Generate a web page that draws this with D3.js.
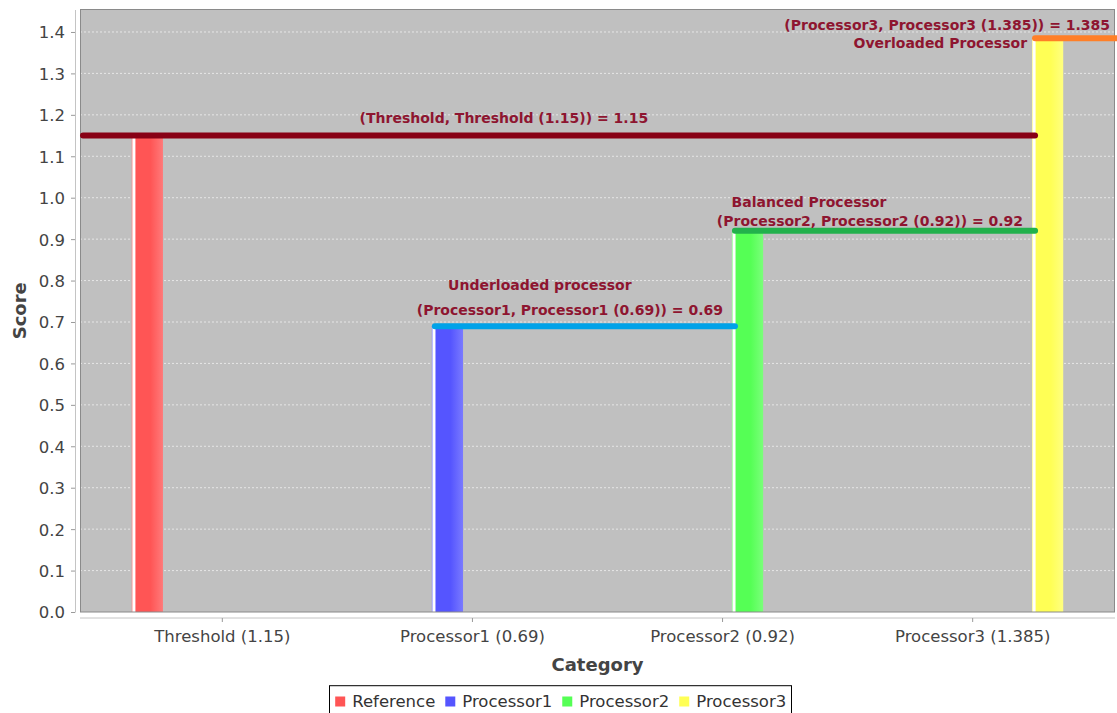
<!DOCTYPE html>
<html>
<head>
<meta charset="utf-8">
<script src="https://cdn.jsdelivr.net/npm/d3@7"></script>
<style>
  html, body { margin: 0; padding: 0; background: #ffffff; }
  svg { display: block; }
</style>
</head>
<body>
<svg id="chart" width="1117" height="713"></svg>
<script>
// ---------------- data ----------------
const categories = ["Threshold (1.15)", "Processor1 (0.69)", "Processor2 (0.92)", "Processor3 (1.385)"];
const seriesNames = ["Reference", "Processor1", "Processor2", "Processor3"];
const seriesValues = [1.15, 0.69, 0.92, 1.385];            // series i has its value in category i
const seriesColors = ["#FF5555", "#5555FF", "#55FF55", "#FFFF55"];
const seriesLight = ["#FF7a7a", "#7a7aFF", "#7aFF7a", "#FFFF80"];
const yTickValues = [0.0, 0.1, 0.2, 0.3, 0.4, 0.5, 0.6, 0.7, 0.8, 0.9, 1.0, 1.1, 1.2, 1.3, 1.4];
const lineColors = ["#880015", "#00A2E8", "#22B14C", "#FF7F27"];
const valueLabels = [
  "(Threshold, Threshold (1.15)) = 1.15",
  "(Processor1, Processor1 (0.69)) = 0.69",
  "(Processor2, Processor2 (0.92)) = 0.92",
  "(Processor3, Processor3 (1.385)) = 1.385"
];
const noteLabels = ["", "Underloaded processor", "Balanced Processor", "Overloaded Processor"];
const xTitle = "Category";
const yTitle = "Score";

// ---------------- layout ----------------
const W = 1117, H = 713;
const plot = { left: 80, right: 1115, top: 9.5, bottom: 612 };
const svg = d3.select("#chart");
const defs = svg.append("defs");

const y = d3.scaleLinear()
  .domain([0, d3.max(seriesValues) * 1.05])
  .range([plot.bottom, plot.top]);

const xCat = d3.scaleBand()
  .domain(categories)
  .range([plot.left, plot.right])
  .paddingInner(0.276)
  .paddingOuter(0.207);

const xSer = d3.scaleBand()
  .domain(seriesNames)
  .range([0, xCat.bandwidth()])
  .paddingInner(0.376)
  .paddingOuter(0);

const barLeft = i => xCat(categories[i]) + xSer(seriesNames[i]);

// plot background
svg.append("rect")
  .attr("x", plot.left).attr("y", plot.top)
  .attr("width", plot.right - plot.left).attr("height", plot.bottom - plot.top)
  .attr("fill", "#C0C0C0");

// gridlines
svg.append("g").selectAll("line")
  .data(yTickValues.filter(d => d > 0))
  .join("line")
  .attr("x1", plot.left).attr("x2", plot.right)
  .attr("y1", d => y(d)).attr("y2", d => y(d))
  .attr("stroke", "#e6e6e6")
  .attr("stroke-width", 1)
  .attr("stroke-dasharray", "2,2");

// bar gradients
seriesNames.forEach((s, i) => {
  const g = defs.append("linearGradient")
    .attr("id", "grad" + i)
    .attr("x1", "0%").attr("x2", "100%").attr("y1", "0%").attr("y2", "0%");
  g.append("stop").attr("offset", "0%").attr("stop-color", seriesLight[i]);
  g.append("stop").attr("offset", "4%").attr("stop-color", "#ffffff");
  g.append("stop").attr("offset", "9%").attr("stop-color", "#ffffff");
  g.append("stop").attr("offset", "14%").attr("stop-color", seriesColors[i]);
  g.append("stop").attr("offset", "60%").attr("stop-color", seriesColors[i]);
  g.append("stop").attr("offset", "100%").attr("stop-color", seriesLight[i]);
});

// bars
svg.append("g").selectAll("rect")
  .data(seriesValues.map((v, i) => ({ v, i })))
  .join("rect")
  .attr("x", d => barLeft(d.i))
  .attr("y", d => y(d.v))
  .attr("width", xSer.bandwidth())
  .attr("height", d => y(0) - y(d.v))
  .attr("fill", d => `url(#grad${d.i})`);

// plot border
svg.append("rect")
  .attr("x", plot.left + 0.5).attr("y", plot.top)
  .attr("width", plot.right - plot.left - 1).attr("height", plot.bottom - plot.top)
  .attr("fill", "none")
  .attr("stroke", "#8a8a8a")
  .attr("stroke-width", 1);

// annotation lines
const lw = 6;
const lineData = seriesValues.map((v, i) => {
  const x1 = i === 0 ? plot.left + lw / 2 : barLeft(i) + lw / 2;
  const x2 = i === 0 ? barLeft(3) + lw / 2 : (i < 3 ? barLeft(i + 1) + lw / 2 : W + lw);
  return { v, i, x1, x2 };
});
svg.append("g").selectAll("line")
  .data(lineData)
  .join("line")
  .attr("x1", d => d.x1).attr("x2", d => d.x2)
  .attr("y1", d => y(d.v)).attr("y2", d => y(d.v))
  .attr("stroke", d => lineColors[d.i])
  .attr("stroke-width", lw)
  .attr("stroke-linecap", "round");

// annotation texts
const textColor = "#8E1530";
const annFont = "bold 14px 'DejaVu Sans', sans-serif";
const valPos = [
  { dx: 72, anchor: "middle", dy: -13 },
  { dx: 138, anchor: "middle", dy: -11.5 },
  { dx: 138, anchor: "middle", dy: -4.5 },
  { dx: 78, anchor: "end", dy: -7.7 }
];
const notePos = [
  null,
  { dx: 108, anchor: "middle", dy: -35.7 },
  { dx: 77, anchor: "middle", dy: -24 },
  { dx: -5, anchor: "end", dy: 10.3 }
];
const ann = svg.append("g").style("font", annFont).attr("fill", textColor);
valueLabels.forEach((t, i) => {
  const p = valPos[i];
  ann.append("text")
    .attr("x", barLeft(Math.max(i, 1)) + p.dx)
    .attr("y", y(seriesValues[i]) + p.dy)
    .attr("text-anchor", p.anchor)
    .text(t);
});
noteLabels.forEach((t, i) => {
  if (!t) return;
  const p = notePos[i];
  ann.append("text")
    .attr("x", barLeft(i) + p.dx)
    .attr("y", y(seriesValues[i]) + p.dy)
    .attr("text-anchor", p.anchor)
    .text(t);
});

// ---------------- axes ----------------
const tickFont = "16.5px 'DejaVu Sans', sans-serif";
const axisColor = "#c4c4c4";
const labelColor = "#444444";

// Y axis
const yAxisX = 75;
const yAxis = d3.axisLeft(y)
  .tickValues(yTickValues)
  .tickFormat(d3.format(".1f"))
  .tickSizeInner(4)
  .tickSizeOuter(0)
  .tickPadding(6);
const gy = svg.append("g").attr("transform", `translate(${yAxisX},0)`).call(yAxis);
gy.select(".domain").attr("stroke", axisColor);
gy.selectAll(".tick line").attr("stroke", "#9a9a9a");
gy.selectAll(".tick text").style("font", tickFont).attr("fill", labelColor).attr("dy", "0.36em");

// X axis
const xAxisY = 618;
const xAxis = d3.axisBottom(d3.scalePoint().domain(categories).range([0, 0]))
  .tickSizeOuter(0);
const gx = svg.append("g").attr("transform", `translate(0,${xAxisY})`);
gx.append("line")
  .attr("x1", plot.left).attr("x2", plot.right)
  .attr("stroke", axisColor);
const xt = gx.selectAll(".tick")
  .data(categories)
  .join("g")
  .attr("transform", d => `translate(${xCat(d) + xCat.bandwidth() / 2},0)`);
xt.append("line").attr("y2", 4).attr("stroke", "#9a9a9a");
xt.append("text")
  .attr("y", 23.5)
  .attr("text-anchor", "middle")
  .style("font", tickFont)
  .attr("fill", labelColor)
  .text(d => d);

// axis titles
svg.append("text")
  .attr("x", (plot.left + plot.right) / 2)
  .attr("y", 671)
  .attr("text-anchor", "middle")
  .style("font", "bold 18px 'DejaVu Sans', sans-serif")
  .attr("fill", labelColor)
  .text(xTitle);

svg.append("text")
  .attr("transform", `translate(26,${(plot.top + plot.bottom) / 2}) rotate(-90)`)
  .attr("text-anchor", "middle")
  .style("font", "bold 18px 'DejaVu Sans', sans-serif")
  .attr("fill", labelColor)
  .text(yTitle);

// ---------------- legend ----------------
const legFont = "16.5px 'DejaVu Sans', sans-serif";
const leg = svg.append("g");
const box = leg.append("rect").attr("fill", "white").attr("stroke", "#000").attr("stroke-width", 1);
let cx = 0;
const items = [];
seriesNames.forEach((s, i) => {
  const g = leg.append("g").attr("transform", `translate(${cx},0)`);
  g.append("rect").attr("x", 0).attr("y", -9.5).attr("width", 10).attr("height", 10).attr("fill", seriesColors[i]);
  const t = g.append("text").attr("x", 17).attr("y", 0.7).style("font", legFont).attr("fill", "#333").text(s);
  const w = t.node().getComputedTextLength();
  cx += 17 + w + 10;
});
const legW = cx - 10 + 11;
const legX = W / 2 + 2 - legW / 2;
leg.attr("transform", `translate(${legX + 5.7},706)`);
box.attr("x", -5.7).attr("y", -20.3).attr("width", legW).attr("height", 40);
</script>
</body>
</html>
